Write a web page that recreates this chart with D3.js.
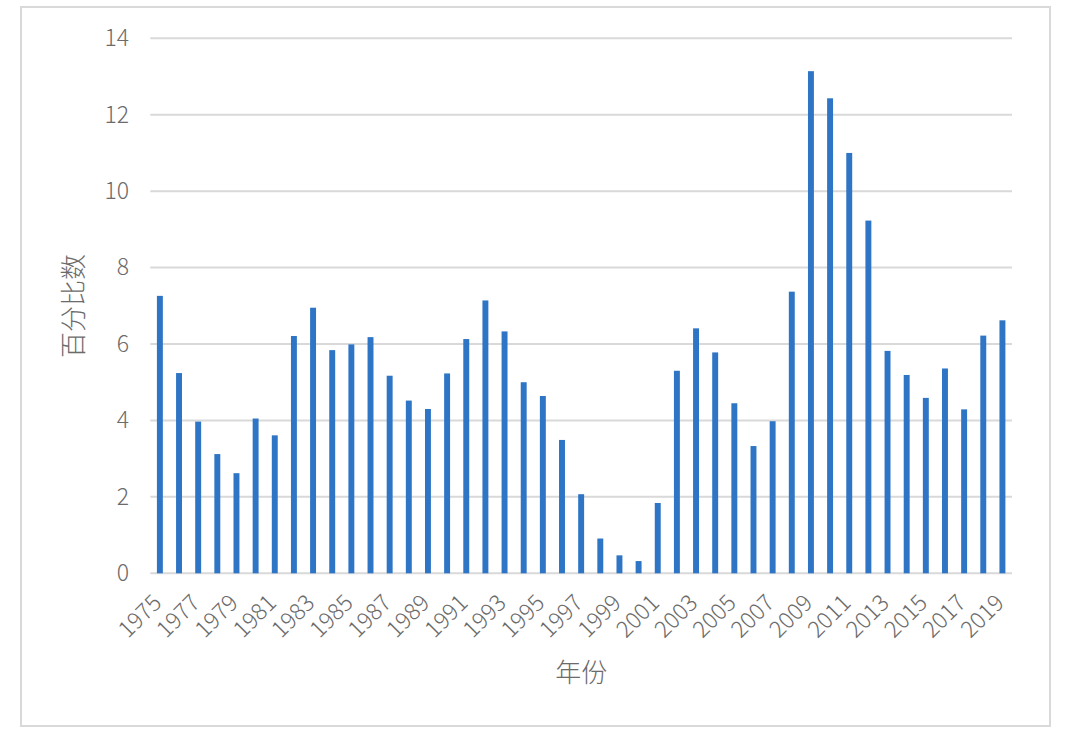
<!DOCTYPE html>
<html>
<head>
<meta charset="utf-8">
<script src="https://cdn.jsdelivr.net/npm/d3@7"></script>
<style>
  html, body { margin: 0; padding: 0; background: #fff; }
  svg { display: block; }
  text { font-family: "Noto Sans CJK SC", "Noto Sans", sans-serif; fill: #6b6b6b; font-weight: 300; }
</style>
</head>
<body>
<svg id="chart" width="1067" height="741"></svg>
<script>
const years = d3.range(1975, 2020).map(String);
const values = [
  7.26, 5.24, 3.97, 3.12, 2.62, 4.05, 3.61, 6.21, 6.95, 5.84,
  5.99, 6.18, 5.17, 4.52, 4.30, 5.23, 6.13, 7.14, 6.33, 5.00,
  4.64, 3.49, 2.07, 0.91, 0.47, 0.32, 1.84, 5.30, 6.41, 5.78,
  4.45, 3.33, 3.98, 7.37, 13.14, 12.43, 11.00, 9.23, 5.82, 5.19,
  4.59, 5.36, 4.29, 6.22, 6.62
];
const yTicks = [0, 2, 4, 6, 8, 10, 12, 14];
const xLabels = years.filter((d, i) => i % 2 === 0);
const yTitle = "百分比数";
const xTitle = "年份";

const svg = d3.select("#chart");
const plotLeft = 150.3, plotRight = 1012, plotTop = 38.3, plotBottom = 573.3;

// outer frame
svg.append("rect")
  .attr("x", 21).attr("y", 7).attr("width", 1029).attr("height", 719)
  .attr("fill", "#fff").attr("stroke", "#d9d9d9").attr("stroke-width", 2);

const x = d3.scaleBand().domain(years).range([plotLeft, plotRight]).paddingInner(0.69).paddingOuter(0.345);
const y = d3.scaleLinear().domain([0, 14]).range([plotBottom, plotTop]);

// gridlines
svg.append("g").selectAll("line").data(yTicks).join("line")
  .attr("x1", plotLeft).attr("x2", plotRight)
  .attr("y1", d => y(d)).attr("y2", d => y(d))
  .attr("stroke", "#d9d9d9").attr("stroke-width", 2);

// y axis labels
const yAxis = d3.axisLeft(y).tickValues(yTicks).tickSize(0).tickPadding(0);
const gy = svg.append("g").attr("transform", `translate(129,0)`).call(yAxis);
gy.select(".domain").remove();
gy.selectAll("text").attr("font-size", 23).attr("fill", "#6b6b6b")
  .style("font-family", '"Noto Sans CJK SC", "Noto Sans", sans-serif');

// bars
svg.append("g").selectAll("rect").data(values).join("rect")
  .attr("x", (d, i) => x(years[i]))
  .attr("width", x.bandwidth())
  .attr("y", d => y(d))
  .attr("height", d => y(0) - y(d))
  .attr("fill", "#2e75c5");

// x labels
const xAxis = d3.axisBottom(x).tickValues(xLabels).tickSize(0).tickPadding(0);
const gx = svg.append("g").attr("transform", `translate(0,${plotBottom})`).call(xAxis);
gx.select(".domain").remove();
gx.selectAll(".tick text")
  .attr("font-size", 23).attr("fill", "#6b6b6b")
  .style("font-family", '"Noto Sans CJK SC", "Noto Sans", sans-serif')
  .attr("text-anchor", "end")
  .attr("dy", null).attr("y", null)
  .attr("transform", "translate(3,31) rotate(-45)");

// axis titles
svg.append("text")
  .attr("transform", `translate(83,306) rotate(-90)`)
  .attr("text-anchor", "middle")
  .attr("font-size", 26)
  .text(yTitle);
svg.append("text")
  .attr("x", (plotLeft + plotRight) / 2).attr("y", 682)
  .attr("text-anchor", "middle")
  .attr("font-size", 26)
  .text(xTitle);
</script>
</body>
</html>
